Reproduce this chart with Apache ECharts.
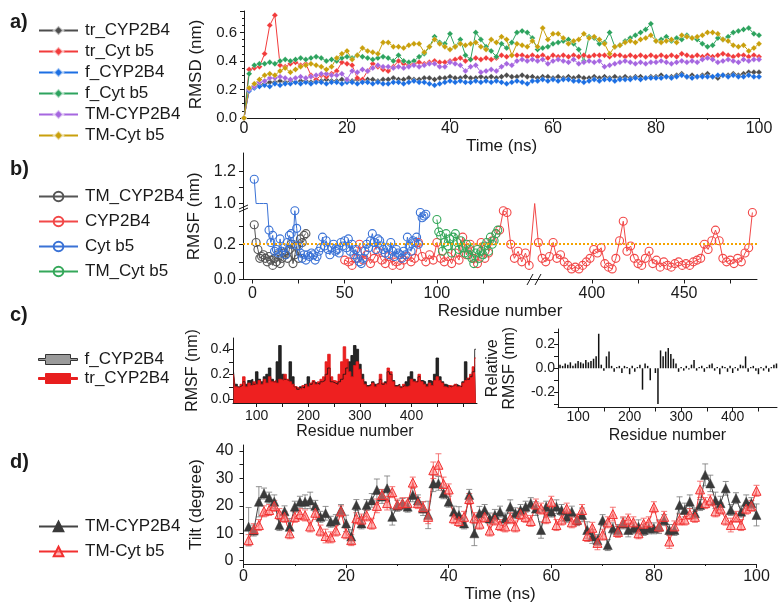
<!DOCTYPE html>
<html>
<head>
<meta charset="utf-8">
<script src="https://cdn.jsdelivr.net/npm/echarts@6/dist/echarts.min.js"></script>
<style>
  html, body { margin: 0; padding: 0; background: #fff; }
  #chart { width: 781px; height: 604px; }
</style>
</head>
<body>
<div id="chart"></div>
<script>
    var FONT = "'Liberation Sans', Arial, sans-serif";
    var INK = '#1a1a1a';

    // ---- a) RMSD vs time (one frame per ns) ----
    var rmsdTime = [];
    for (var t = 0; t <= 100; t++) rmsdTime.push(t);
    var rmsdTrCyp = [
        0.00, 0.20, 0.22, 0.23, 0.24, 0.25, 0.25, 0.26, 0.25, 0.26,
        0.25, 0.26, 0.26, 0.25, 0.26, 0.26, 0.27, 0.26, 0.26, 0.27,
        0.26, 0.26, 0.27, 0.26, 0.27, 0.27, 0.26, 0.27, 0.27, 0.28,
        0.27, 0.27, 0.28, 0.27, 0.27, 0.28, 0.28, 0.27, 0.28, 0.28,
        0.29, 0.28, 0.28, 0.29, 0.28, 0.28, 0.29, 0.28, 0.29, 0.28,
        0.29, 0.30, 0.29, 0.29, 0.30, 0.29, 0.29, 0.28, 0.29, 0.29,
        0.28, 0.29, 0.28, 0.29, 0.28, 0.29, 0.28, 0.28, 0.29, 0.28,
        0.29, 0.28, 0.29, 0.28, 0.29, 0.28, 0.29, 0.29, 0.28, 0.29,
        0.29, 0.30, 0.29, 0.29, 0.30, 0.31, 0.29, 0.30, 0.29, 0.30,
        0.31, 0.29, 0.28, 0.30, 0.30, 0.31, 0.30, 0.31, 0.32, 0.32,
        0.32];
    var rmsdTrCytb5 = [
        0.00, 0.34, 0.35, 0.36, 0.45, 0.65, 0.72, 0.37, 0.36, 0.38,
        0.39, 0.37, 0.38, 0.30, 0.27, 0.30, 0.29, 0.31, 0.33, 0.39,
        0.38, 0.37, 0.28, 0.27, 0.33, 0.38, 0.36, 0.34, 0.33, 0.36,
        0.40, 0.38, 0.37, 0.38, 0.39, 0.38, 0.39, 0.40, 0.39, 0.39,
        0.40, 0.41, 0.42, 0.40, 0.41, 0.42, 0.41, 0.42, 0.41, 0.42,
        0.44, 0.43, 0.44, 0.44, 0.44, 0.43, 0.44, 0.43, 0.44, 0.42,
        0.44, 0.43, 0.44, 0.43, 0.44, 0.43, 0.44, 0.43, 0.44, 0.44,
        0.44, 0.43, 0.44, 0.44, 0.43, 0.44, 0.43, 0.44, 0.43, 0.44,
        0.43, 0.44, 0.43, 0.44, 0.43, 0.45, 0.44, 0.43, 0.44, 0.43,
        0.44, 0.43, 0.44, 0.45, 0.44, 0.43, 0.44, 0.44, 0.43, 0.44,
        0.43];
    var rmsdFCyp = [
        0.00, 0.19, 0.21, 0.22, 0.23, 0.22, 0.24, 0.23, 0.24, 0.24,
        0.25, 0.24, 0.25, 0.24, 0.25, 0.25, 0.24, 0.25, 0.25, 0.24,
        0.25, 0.25, 0.24, 0.25, 0.25, 0.24, 0.25, 0.24, 0.24, 0.25,
        0.25, 0.24, 0.25, 0.26, 0.25, 0.25, 0.24, 0.23, 0.24, 0.25,
        0.26, 0.25, 0.26, 0.25, 0.25, 0.26, 0.25, 0.26, 0.25, 0.26,
        0.25, 0.24, 0.25, 0.26, 0.25, 0.24, 0.26, 0.26, 0.27, 0.26,
        0.27, 0.26, 0.27, 0.27, 0.26, 0.26, 0.25, 0.26, 0.27, 0.26,
        0.27, 0.27, 0.26, 0.27, 0.27, 0.27, 0.28, 0.27, 0.28, 0.28,
        0.28, 0.28, 0.29, 0.28, 0.29, 0.30, 0.29, 0.28, 0.29, 0.29,
        0.29, 0.29, 0.30, 0.30, 0.29, 0.30, 0.29, 0.29, 0.30, 0.29,
        0.29];
    var rmsdFCytb5 = [
        0.00, 0.31, 0.37, 0.38, 0.38, 0.39, 0.38, 0.40, 0.41, 0.40,
        0.41, 0.42, 0.41, 0.42, 0.43, 0.42, 0.40, 0.41, 0.40, 0.42,
        0.43, 0.42, 0.44, 0.43, 0.42, 0.41, 0.42, 0.43, 0.42, 0.40,
        0.44, 0.40, 0.39, 0.40, 0.43, 0.45, 0.50, 0.57, 0.53, 0.52,
        0.59, 0.50, 0.55, 0.44, 0.41, 0.60, 0.55, 0.50, 0.47, 0.43,
        0.52, 0.49, 0.53, 0.60, 0.61, 0.60, 0.56, 0.48, 0.49, 0.50,
        0.52, 0.53, 0.54, 0.55, 0.52, 0.48, 0.40, 0.57, 0.56, 0.52,
        0.53, 0.60, 0.50, 0.51, 0.54, 0.56, 0.58, 0.60, 0.62, 0.66,
        0.54, 0.55, 0.57, 0.54, 0.56, 0.55, 0.58, 0.56, 0.55, 0.52,
        0.50, 0.51, 0.56, 0.55, 0.57, 0.60, 0.61, 0.62, 0.63, 0.59,
        0.58];
    var rmsdTmCyp = [
        0.00, 0.20, 0.22, 0.25, 0.26, 0.28, 0.28, 0.29, 0.28, 0.27,
        0.28, 0.29, 0.28, 0.29, 0.30, 0.31, 0.31, 0.30, 0.30, 0.31,
        0.27, 0.33, 0.32, 0.34, 0.33, 0.35, 0.37, 0.36, 0.36, 0.35,
        0.36, 0.35, 0.36, 0.37, 0.36, 0.37, 0.38, 0.38, 0.36, 0.36,
        0.39, 0.38, 0.37, 0.33, 0.36, 0.37, 0.32, 0.33, 0.34, 0.33,
        0.36, 0.38, 0.37, 0.40, 0.41, 0.40, 0.41, 0.40, 0.41, 0.38,
        0.40, 0.41, 0.40, 0.39, 0.41, 0.38, 0.39, 0.40, 0.39, 0.40,
        0.36, 0.37, 0.38, 0.39, 0.40, 0.39, 0.38, 0.39, 0.38, 0.39,
        0.39, 0.40, 0.39, 0.38, 0.39, 0.40, 0.39, 0.40, 0.39, 0.41,
        0.42, 0.41, 0.39, 0.40, 0.41, 0.40, 0.39, 0.41, 0.40, 0.41,
        0.41];
    var rmsdTmCytb5 = [
        0.00, 0.21, 0.24, 0.27, 0.30, 0.31, 0.30, 0.33, 0.35, 0.32,
        0.34, 0.36, 0.37, 0.38, 0.37, 0.36, 0.34, 0.36, 0.42, 0.45,
        0.47, 0.41, 0.44, 0.49, 0.47, 0.46, 0.45, 0.53, 0.53, 0.50,
        0.50, 0.49, 0.51, 0.52, 0.52, 0.46, 0.50, 0.55, 0.52, 0.50,
        0.48, 0.50, 0.52, 0.51, 0.52, 0.53, 0.50, 0.48, 0.55, 0.53,
        0.57, 0.55, 0.44, 0.52, 0.51, 0.50, 0.54, 0.50, 0.63, 0.55,
        0.59, 0.59, 0.56, 0.52, 0.54, 0.55, 0.59, 0.56, 0.57, 0.55,
        0.52, 0.45, 0.50, 0.51, 0.53, 0.54, 0.53, 0.55, 0.56, 0.58,
        0.54, 0.53, 0.54, 0.55, 0.53, 0.58, 0.57, 0.56, 0.57, 0.58,
        0.60, 0.60, 0.59, 0.55, 0.54, 0.51, 0.50, 0.51, 0.47, 0.49,
        0.52];

    // ---- b) RMSF per residue (broken axes) ----
    var resTmCyp = [];
    for (var r = 1; r <= 29; r++) resTmCyp.push(r);
    var rmsfTmCyp = [
        0.31, 0.21, 0.17, 0.12, 0.13, 0.14, 0.12, 0.10, 0.13, 0.11,
        0.08, 0.12, 0.10, 0.14, 0.09, 0.12, 0.15, 0.14, 0.12, 0.17,
        0.20, 0.09, 0.14, 0.19, 0.12, 0.23, 0.21, 0.25, 0.26];
    var resCytb5 = [];
    for (r = 1; r <= 94; r++) resCytb5.push(r);
    var rmsfCytb5 = [
        1.15, 0.80, 0.80, 0.80, 0.80, 0.80, 0.80, 0.80, 0.28, 0.21,
        0.25, 0.16, 0.17, 0.15, 0.23, 0.16, 0.18, 0.14, 0.21, 0.25,
        0.26, 0.20, 0.39, 0.29, 0.19, 0.15, 0.12, 0.14, 0.11, 0.14,
        0.13, 0.15, 0.14, 0.11, 0.13, 0.16, 0.18, 0.24, 0.19, 0.22,
        0.17, 0.14, 0.18, 0.20, 0.16, 0.17, 0.15, 0.21, 0.19, 0.22,
        0.18, 0.23, 0.16, 0.20, 0.14, 0.17, 0.12, 0.10, 0.09, 0.12,
        0.16, 0.20, 0.18, 0.22, 0.26, 0.21, 0.17, 0.23, 0.22, 0.19,
        0.17, 0.15, 0.18, 0.14, 0.21, 0.16, 0.13, 0.17, 0.15, 0.14,
        0.12, 0.16, 0.14, 0.24, 0.19, 0.16, 0.22, 0.21, 0.24, 0.20,
        0.38, 0.35, 0.36, 0.37];
    var resTmCytb5 = [];
    for (r = 100; r <= 133; r++) resTmCytb5.push(r);
    var rmsfTmCytb5 = [
        0.34, 0.27, 0.25, 0.16, 0.21, 0.26, 0.19, 0.23, 0.15, 0.24,
        0.26, 0.21, 0.17, 0.22, 0.18, 0.15, 0.20, 0.14, 0.17, 0.12,
        0.09, 0.15, 0.17, 0.12, 0.16, 0.14, 0.19, 0.21, 0.16, 0.24,
        0.20, 0.22, 0.26, 0.28];
    var resCyp = [];
    for (r = 50; r <= 150; r += 2) resCyp.push(r);
    for (r = 369; r <= 487; r += 2) resCyp.push(r);
    var rmsfCyp = [
        0.11, 0.10, 0.08, 0.12, 0.20, 0.11, 0.14, 0.09, 0.12, 0.16,
        0.11, 0.09, 0.13, 0.08, 0.10, 0.08, 0.11, 0.13, 0.10, 0.12,
        0.21, 0.13, 0.10, 0.14, 0.11, 0.21, 0.12, 0.10, 0.13, 0.09,
        0.15, 0.11, 0.24, 0.14, 0.20, 0.12, 0.09, 0.21, 0.12, 0.15,
        0.22, 0.26, 0.28, 0.39, 0.38, 0.20, 0.12, 0.16, 0.10, 0.15,
        0.08,
        0.80, 0.21, 0.12, 0.10, 0.13, 0.21, 0.12, 0.14, 0.10, 0.08,
        0.06, 0.07, 0.06, 0.08, 0.10, 0.12, 0.17, 0.15, 0.18, 0.09,
        0.07, 0.06, 0.12, 0.22, 0.33, 0.16, 0.19, 0.12, 0.09, 0.08,
        0.12, 0.16, 0.09, 0.11, 0.07, 0.10, 0.08, 0.07, 0.09, 0.10,
        0.08, 0.09, 0.08, 0.10, 0.11, 0.12, 0.20, 0.17, 0.22, 0.28,
        0.22, 0.12, 0.10, 0.11, 0.09, 0.12, 0.10, 0.15, 0.18, 0.38];
    var rmsfCutoff = 0.195;

    // ---- c) RMSF of full vs truncated CYP2B4 ----
    var resC = [];
    for (r = 55; r <= 525; r += 5) resC.push(r);
    var rmsfF = [
        0.22, 0.12, 0.10, 0.11, 0.14, 0.12, 0.15, 0.16, 0.12, 0.22,
        0.16, 0.14, 0.18, 0.20, 0.25, 0.16, 0.14, 0.30, 0.43, 0.20,
        0.16, 0.15, 0.30, 0.18, 0.10, 0.08, 0.10, 0.09, 0.12, 0.18,
        0.12, 0.14, 0.13, 0.12, 0.14, 0.15, 0.20, 0.25, 0.14, 0.13,
        0.12, 0.14, 0.16, 0.20, 0.25, 0.30, 0.35, 0.43, 0.40, 0.28,
        0.20, 0.14, 0.11, 0.12, 0.14, 0.12, 0.13, 0.16, 0.12, 0.14,
        0.22, 0.20, 0.15, 0.11, 0.12, 0.10, 0.11, 0.14, 0.18, 0.22,
        0.16, 0.14, 0.18, 0.15, 0.14, 0.12, 0.15, 0.14, 0.20, 0.33,
        0.18, 0.14, 0.12, 0.11, 0.10, 0.11, 0.12, 0.11, 0.10, 0.14,
        0.30, 0.16, 0.18, 0.22, 0.40];
    var rmsfTr = [
        0.20, 0.10, 0.09, 0.12, 0.18, 0.10, 0.13, 0.11, 0.14, 0.12,
        0.15, 0.12, 0.16, 0.13, 0.18, 0.14, 0.15, 0.13, 0.16, 0.15,
        0.20, 0.16, 0.14, 0.12, 0.10, 0.09, 0.08, 0.11, 0.12, 0.10,
        0.13, 0.15, 0.12, 0.14, 0.16, 0.18, 0.30, 0.36, 0.18, 0.15,
        0.14, 0.20, 0.30, 0.42, 0.32, 0.22, 0.18, 0.27, 0.30, 0.24,
        0.16, 0.12, 0.10, 0.11, 0.13, 0.10, 0.12, 0.20, 0.13, 0.12,
        0.25, 0.22, 0.14, 0.10, 0.11, 0.09, 0.12, 0.10, 0.11, 0.16,
        0.14, 0.15, 0.20, 0.14, 0.12, 0.10, 0.13, 0.11, 0.15, 0.18,
        0.15, 0.13, 0.10, 0.09, 0.11, 0.10, 0.12, 0.10, 0.11, 0.13,
        0.15, 0.17, 0.20, 0.26, 0.33];
    var resRel = [];
    for (r = 60; r <= 485; r += 5) resRel.push(r);
    var relRmsf = [
        0.00, 0.03, 0.02, 0.04, 0.03, 0.05, 0.02, 0.04, 0.06, 0.05,
        0.04, 0.07, 0.05, 0.06, 0.08, 0.10, 0.29, 0.03, -0.02, 0.10,
        0.14, 0.02, -0.03, 0.01, 0.02, -0.04, 0.02, 0.01, -0.05, 0.02,
        -0.03, 0.01, 0.03, -0.18, 0.04, 0.02, -0.10, 0.00, -0.04, -0.30,
        0.15, 0.10, 0.14, 0.17, 0.12, 0.08, 0.04, -0.03, 0.01, -0.02,
        0.02, -0.01, 0.03, 0.07, -0.02, 0.01, 0.02, -0.03, 0.01, 0.03,
        0.04, -0.02, 0.01, -0.05, 0.02, 0.01, -0.03, 0.02, -0.04, 0.01,
        -0.02, 0.03, 0.02, 0.10, -0.03, 0.01, 0.02, -0.02, -0.05, 0.01,
        -0.02, 0.02, -0.03, 0.01, 0.03, 0.04];

    // ---- d) TM helix tilt vs time ----
    var tiltTime = [];
    for (t = 1; t <= 100; t++) tiltTime.push(t);
    var tiltCyp = [
        12.4, 11.0, 21.5, 24.5, 23.0, 21.5, 13.0, 18.0, 12.4, 19.7,
        21.5, 21.5, 22.0, 20.0, 16.0, 17.3, 14.2, 14.8, 18.5, 13.6,
        8.8, 20.3, 13.6, 20.3, 22.0, 25.8, 23.4, 26.4, 16.0, 20.0,
        20.7, 19.7, 24.0, 22.0, 19.0, 16.7, 28.2, 28.2, 24.6, 21.5,
        17.9, 16.7, 13.6, 24.0, 10.0, 17.3, 18.5, 15.4, 16.7, 17.9,
        15.4, 19.7, 17.3, 18.5, 19.7, 21.0, 19.0, 11.2, 19.7, 17.9,
        19.7, 18.5, 16.0, 17.9, 14.8, 16.7, 11.2, 8.8, 7.5, 14.8,
        5.7, 11.8, 11.2, 13.6, 11.2, 11.8, 12.4, 11.2, 11.8, 11.8,
        12.4, 14.8, 11.2, 11.2, 20.3, 18.5, 21.5, 17.3, 20.3, 31.3,
        28.2, 22.0, 21.0, 26.4, 18.5, 22.8, 17.9, 21.5, 21.0, 16.7];
    var tiltCypErr = [
        7, 2, 5.5, 2, 2, 2.5, 2, 2, 3, 2,
        2, 2.5, 3, 2, 2, 2.5, 2, 2, 2, 3,
        2.5, 2, 2, 2, 2.5, 4, 2.5, 4.5, 3, 2,
        2, 2, 2.5, 2, 2.5, 5, 3, 2.5, 2, 2,
        2, 3, 2, 2, 4.5, 2.5, 2, 2, 2, 2,
        2, 2.5, 2, 2, 2, 2, 2.5, 3, 2, 2,
        2.5, 2, 2, 2, 2, 2.5, 3, 2.5, 2, 2,
        2, 2, 2, 2, 2.5, 2, 2.5, 2, 2, 2,
        2.5, 2, 2, 2, 3, 2.5, 2.5, 2, 2, 4,
        3, 3, 2.5, 2.5, 2, 2, 2, 2.5, 2, 4];
    var tiltCytb5 = [
        7.5, 11.5, 13.0, 18.0, 18.5, 20.0, 17.0, 16.0, 10.0, 16.0,
        17.0, 16.5, 12.5, 17.5, 11.0, 9.0, 8.5, 11.0, 18.0, 10.0,
        7.5, 15.5, 15.0, 16.5, 13.5, 20.0, 24.0, 21.0, 25.0, 20.5,
        21.0, 21.0, 28.5, 21.0, 19.5, 16.0, 33.0, 35.0, 28.0, 26.0,
        15.5, 14.5, 16.0, 22.5, 15.5, 13.5, 16.0, 11.0, 15.0, 13.0,
        12.5, 15.5, 12.5, 17.0, 16.0, 14.5, 20.5, 19.0, 15.5, 21.5,
        13.0, 15.0, 19.0, 14.0, 15.0, 18.5, 9.0, 12.0, 6.5, 9.5,
        14.0, 17.0, 10.5, 14.0, 15.0, 14.0, 10.0, 13.5, 14.0, 19.5,
        12.5, 16.0, 7.0, 12.5, 15.0, 15.0, 17.0, 16.0, 26.0, 21.0,
        22.0, 18.0, 19.0, 15.0, 13.0, 16.0, 13.0, 19.0, 20.0, 25.5];
    var tiltCytb5Err = [
        2, 2, 2, 2, 2, 2, 2, 2, 2, 2,
        2, 2, 2, 2.5, 2, 2.5, 2, 2, 2, 2,
        2, 2, 2, 2, 2, 2.5, 2, 2.5, 2, 2,
        2, 2, 2, 2, 2, 2.5, 3, 4, 2.5, 2,
        2, 2, 2, 2, 2, 2, 2, 2, 2, 2,
        2, 2, 2, 2, 2, 2, 2, 2, 2, 2,
        2, 2, 2, 2, 2, 2, 2, 2, 2.5, 2,
        2, 2.5, 2, 2, 2, 2, 2, 2, 2, 2,
        2, 2, 2.5, 2, 2, 2, 2, 2, 3, 2,
        2, 2, 2, 2, 2.5, 2, 2, 2, 2, 2];

    // broken axes of panel b: residues 153-368 and RMSF 0.4-1.0 are cut out
    function bx(res) { return res <= 152 ? res : res - 216; }
    function by(v) {
        if (v <= 0.4) return v;
        if (v < 1.0) return 0.4306;
        return 0.4306 + (v - 1) * 0.915;
    }
    function brokenData(res, vals) {
        return res.map(function (r, i) {
            var v = vals[i];
            var item = {value: [bx(r), by(v)]};
            if (v > 0.4 && v < 1.0) item.symbol = 'none';
            return item;
        });
    }
    function pairs(xs, ys) {
        return xs.map(function (x, i) { return [x, ys[i]]; });
    }

    function merge(a, b) {
        var out = {};
        [a, b].forEach(function (src) {
            Object.keys(src).forEach(function (k) {
                var v = src[k];
                if (v && typeof v === 'object' && !Array.isArray(v) &&
                    out[k] && typeof out[k] === 'object' && !Array.isArray(out[k])) {
                    out[k] = merge(out[k], v);
                } else {
                    out[k] = v;
                }
            });
        });
        return out;
    }
    var AXIS = {
        type: 'value',
        nameLocation: 'middle',
        nameTextStyle: {fontFamily: FONT, fontSize: 17, color: INK},
        axisLine: {show: true, onZero: false, lineStyle: {color: INK, width: 1}},
        axisTick: {show: true, length: 4, lineStyle: {color: INK, width: 1}},
        minorTick: {show: false, length: 2, lineStyle: {color: INK, width: 1}},
        axisLabel: {fontFamily: FONT, fontSize: 15, color: INK},
        splitLine: {show: false}
    };
    function axis(o) { return merge(AXIS, o); }
    function fix1(v) { return Number(v).toFixed(1); }
    function ticks(a, b, step) {
        var out = [];
        for (var v = a; v <= b + 1e-9; v += step) out.push(Math.round(v * 1000) / 1000);
        return out;
    }

    function rmsdLine(name, vals, color) {
        return {
            name: name, type: 'line', xAxisIndex: 0, yAxisIndex: 0,
            data: pairs(rmsdTime, vals),
            symbol: 'diamond', symbolSize: 6,
            lineStyle: {color: color, width: 1},
            itemStyle: {color: color, borderColor: 'rgba(255,255,255,0.6)', borderWidth: 0.5}
        };
    }
    function rmsfLine(name, res, vals, color) {
        return {
            name: name, type: 'line', xAxisIndex: 1, yAxisIndex: 1,
            data: brokenData(res, vals),
            symbol: 'circle', symbolSize: 8,
            lineStyle: {color: color, width: 1},
            itemStyle: {color: 'rgba(255,255,255,0)', borderColor: color, borderWidth: 1.1}
        };
    }
    function errBars(times, vals, errs, color) {
        return {
            type: 'custom', xAxisIndex: 4, yAxisIndex: 4, silent: true,
            data: times.map(function (t, i) { return [t, vals[i] - errs[i], vals[i] + errs[i]]; }),
            encode: {x: 0, y: [1, 2]},
            renderItem: function (params, api) {
                var lo = api.coord([api.value(0), api.value(1)]);
                var hi = api.coord([api.value(0), api.value(2)]);
                var w = 3;
                var st = {stroke: color, lineWidth: 0.8, fill: null};
                return {
                    type: 'group', children: [
                        {type: 'line', shape: {x1: lo[0], y1: lo[1], x2: hi[0], y2: hi[1]}, style: st},
                        {type: 'line', shape: {x1: hi[0] - w, y1: hi[1], x2: hi[0] + w, y2: hi[1]}, style: st},
                        {type: 'line', shape: {x1: lo[0] - w, y1: lo[1], x2: lo[0] + w, y2: lo[1]}, style: st}
                    ]
                };
            }
        };
    }

    function legendOf(names, top, gap, extra) {
        return merge({
            data: names, orient: 'vertical', left: 33, top: top,
            itemWidth: 39, itemHeight: 12, itemGap: gap, selectedMode: false,
            formatter: function (n) { return n.slice(2); },
            textStyle: {fontFamily: FONT, fontSize: 17, color: INK, padding: [0, 0, 0, 2]}
        }, extra || {});
    }
    var rectIcon = 'path://M0,4H7V0H32V4H39V6H32V10H7V6H0Z';

    var option = {
        animation: false,
        backgroundColor: '#fff',
        grid: [
            {left: 244, top: 11, width: 515, height: 107},
            {left: 243, top: 153, width: 514, height: 126.5},
            {left: 233, top: 338, width: 244, height: 65},
            {left: 558, top: 329, width: 219, height: 78.5},
            {left: 243.5, top: 445, width: 513, height: 119}
        ],
        xAxis: [
            axis({gridIndex: 0, min: 0, max: 100, interval: 20, name: 'Time (ns)', nameGap: 19,
                minorTick: {show: true, splitNumber: 2},
                axisLabel: {fontSize: 16, margin: 3}}),
            axis({gridIndex: 1, min: -5.1, max: 273.5, name: 'Residue number', nameGap: 21,
                axisLabel: {fontSize: 16, margin: 6, customValues: [0, 50, 100, 184, 234],
                    formatter: function (v) { return String(v > 152 ? Math.round(v + 216) : v); }},
                axisTick: {customValues: [0, 25, 50, 75, 100, 125, 184, 209, 234, 259]}}),
            axis({gridIndex: 2, min: 54, max: 527, name: 'Residue number', nameGap: 21,
                nameTextStyle: {fontSize: 16},
                axisLabel: {fontSize: 14, margin: 6, customValues: [100, 200, 300, 400]},
                axisTick: {customValues: ticks(100, 500, 50)}}),
            axis({gridIndex: 3, min: 61, max: 486, name: 'Residue number', nameGap: 20,
                nameTextStyle: {fontSize: 16},
                axisLabel: {fontSize: 14, margin: 3, customValues: [100, 200, 300, 400]},
                axisTick: {customValues: ticks(100, 450, 50)}}),
            axis({gridIndex: 4, min: 0, max: 100, interval: 20, name: 'Time (ns)', nameGap: 22,
                minorTick: {show: true, splitNumber: 2},
                axisLabel: {fontSize: 16, margin: 5}})
        ],
        yAxis: [
            axis({gridIndex: 0, min: 0, max: 0.75, interval: 0.2, name: 'RMSD (nm)', nameGap: 34,
                minorTick: {show: true, splitNumber: 4},
                axisLabel: {margin: 7, showMaxLabel: false, formatter: fix1}}),
            axis({gridIndex: 1, min: 0, max: 0.717, name: 'RMSF (nm)', nameGap: 34,
                axisLabel: {fontSize: 16, margin: 7, customValues: [0, 0.2, by(1.0), by(1.2)],
                    formatter: function (v) { return fix1(v > 0.41 ? (v - 0.4306) / 0.915 + 1 : v); }},
                axisTick: {customValues: [0, 0.1, 0.2, 0.3, by(1.0), by(1.1), by(1.2)]}}),
            axis({gridIndex: 2, min: -0.03, max: 0.49, name: 'RMSF (nm)', nameGap: 32,
                nameTextStyle: {fontSize: 16},
                axisLabel: {fontSize: 14, margin: 3, customValues: [0, 0.2, 0.4], formatter: fix1},
                axisTick: {customValues: ticks(0, 0.4, 0.1)}}),
            axis({gridIndex: 3, min: -0.33, max: 0.33, name: 'Relative\nRMSF (nm)', nameGap: 40,
                nameTextStyle: {fontSize: 16, lineHeight: 17},
                axisLabel: {fontSize: 14, margin: 3, customValues: [-0.2, 0, 0.2], formatter: fix1},
                axisTick: {customValues: [-0.3, -0.2, -0.1, 0, 0.1, 0.2, 0.3]}}),
            axis({gridIndex: 4, min: -1.2, max: 42.2, name: 'Tilt (degree)', nameGap: 32,
                axisLabel: {fontSize: 16, margin: 10, customValues: [0, 10, 20, 30, 40]},
                axisTick: {customValues: ticks(0, 40, 5)}})
        ],
        legend: [
            legendOf(['a:tr_CYP2B4', 'a:tr_Cyt b5', 'a:f_CYP2B4', 'a:f_Cyt b5', 'a:TM-CYP2B4', 'a:TM-Cyt b5'], 17, 4),
            legendOf(['b:TM_CYP2B4', 'b:CYP2B4', 'b:Cyt b5', 'b:TM_Cyt b5'], 183, 8),
            legendOf([
                {name: 'c:f_CYP2B4', icon: rectIcon, itemStyle: {color: '#9a9a9a', borderColor: '#333', borderWidth: 1}},
                {name: 'c:tr_CYP2B4', icon: rectIcon, itemStyle: {color: '#e81e1e', borderColor: '#e81e1e', borderWidth: 1}}
            ], 346, 2, {itemHeight: 10}),
            legendOf(['d:TM-CYP2B4', 'd:TM-Cyt b5'], 513, 8)
        ],
        graphic: [
            {type: 'text', left: 10, top: 12, style: {text: 'a)', font: 'bold 20px ' + FONT, fill: INK}},
            {type: 'text', left: 10, top: 159, style: {text: 'b)', font: 'bold 20px ' + FONT, fill: INK}},
            {type: 'text', left: 10, top: 305, style: {text: 'c)', font: 'bold 20px ' + FONT, fill: INK}},
            {type: 'text', left: 10, top: 452, style: {text: 'd)', font: 'bold 20px ' + FONT, fill: INK}},
            {type: 'line', shape: {x1: 527, y1: 285, x2: 533, y2: 274}, style: {stroke: INK, lineWidth: 1}},
            {type: 'line', shape: {x1: 535, y1: 285, x2: 541, y2: 274}, style: {stroke: INK, lineWidth: 1}},
            {type: 'line', shape: {x1: 239, y1: 209, x2: 248, y2: 205}, style: {stroke: INK, lineWidth: 1}},
            {type: 'line', shape: {x1: 239, y1: 212, x2: 248, y2: 208}, style: {stroke: INK, lineWidth: 1}}
        ],
        series: [
            rmsdLine('a:tr_CYP2B4', rmsdTrCyp, '#4d4d4d'),
            rmsdLine('a:tr_Cyt b5', rmsdTrCytb5, '#f23b3b'),
            rmsdLine('a:f_CYP2B4', rmsdFCyp, '#1c6fe3'),
            rmsdLine('a:f_Cyt b5', rmsdFCytb5, '#2da35e'),
            rmsdLine('a:TM-CYP2B4', rmsdTmCyp, '#a667e0'),
            rmsdLine('a:TM-Cyt b5', rmsdTmCytb5, '#c9a00c'),

            merge(rmsfLine('b:TM_CYP2B4', resTmCyp, rmsfTmCyp, '#555555'), {
                markLine: {
                    silent: true, symbol: 'none', label: {show: false},
                    lineStyle: {color: '#f5a300', type: 'dotted', width: 2},
                    data: [{yAxis: rmsfCutoff}]
                }
            }),
            rmsfLine('b:CYP2B4', resCyp, rmsfCyp, '#f24848'),
            rmsfLine('b:Cyt b5', resCytb5, rmsfCytb5, '#3a72d6'),
            rmsfLine('b:TM_Cyt b5', resTmCytb5, rmsfTmCytb5, '#35a85a'),

            {
                name: 'c:f_CYP2B4', type: 'line', xAxisIndex: 2, yAxisIndex: 2,
                data: pairs(resC, rmsfF), step: 'middle', showSymbol: false, symbol: 'rect',
                lineStyle: {color: '#111', width: 0.8},
                areaStyle: {color: '#262626', opacity: 1, origin: 'start'}
            },
            {
                name: 'c:tr_CYP2B4', type: 'line', xAxisIndex: 2, yAxisIndex: 2,
                data: pairs(resC, rmsfTr), step: 'middle', showSymbol: false, symbol: 'rect',
                lineStyle: {color: '#e01515', width: 0.8},
                areaStyle: {color: '#ee2020', opacity: 1, origin: 'start'}
            },
            {
                name: 'rel', type: 'bar', xAxisIndex: 3, yAxisIndex: 3,
                data: pairs(resRel, relRmsf), barWidth: 1.5,
                itemStyle: {color: '#111'}
            },

            errBars(tiltTime, tiltCyp, tiltCypErr, '#777'),
            {
                name: 'd:TM-CYP2B4', type: 'line', xAxisIndex: 4, yAxisIndex: 4,
                data: pairs(tiltTime, tiltCyp), symbol: 'triangle', symbolSize: 9,
                lineStyle: {color: '#444', width: 1},
                itemStyle: {color: '#3a3a3a', borderColor: '#3a3a3a', borderWidth: 0.5}
            },
            errBars(tiltTime, tiltCytb5, tiltCytb5Err, '#f25555'),
            {
                name: 'd:TM-Cyt b5', type: 'line', xAxisIndex: 4, yAxisIndex: 4,
                data: pairs(tiltTime, tiltCytb5), symbol: 'triangle', symbolSize: 9,
                lineStyle: {color: '#f23030', width: 1},
                itemStyle: {color: 'rgba(255,120,120,0.55)', borderColor: '#f23030', borderWidth: 1}
            }
        ]
    };

    var myChart = echarts.init(document.getElementById('chart'), null, {renderer: 'canvas'});
    myChart.setOption(option);
</script>
</body>
</html>
